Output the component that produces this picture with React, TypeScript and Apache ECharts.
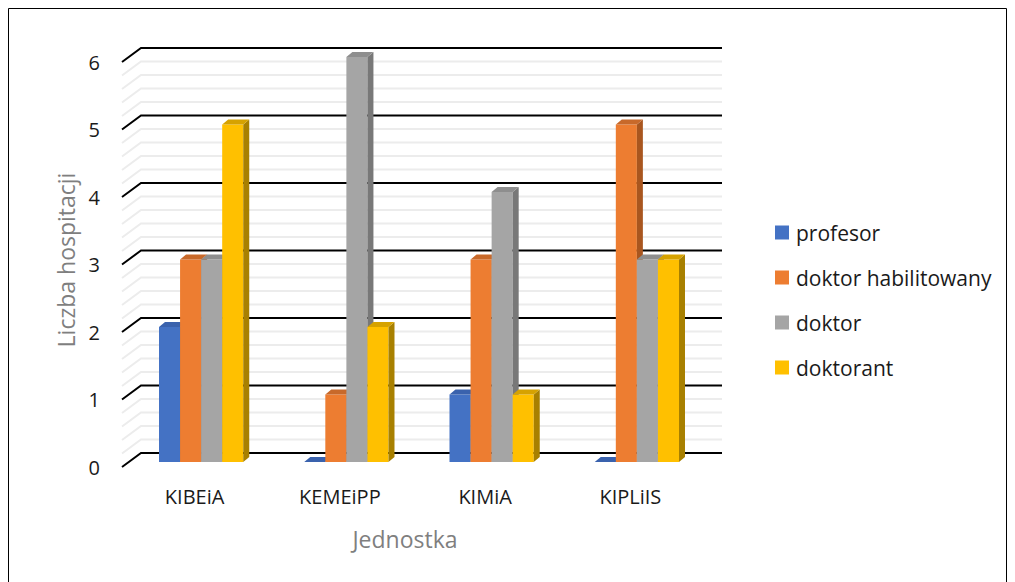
import React, { useEffect, useRef } from "react";
import * as echarts from "echarts";

const categories = ["KIBEiA", "KEMEiPP", "KIMiA", "KIPLiIS"];
const seriesNames = ["profesor", "doktor habilitowany", "doktor", "doktorant"];
const profesor = [2, 0, 1, 0];
const doktorHab = [3, 1, 3, 5];
const doktor = [3, 6, 4, 3];
const doktorant = [5, 2, 1, 3];
const yTicks = [0, 1, 2, 3, 4, 5, 6];

const seriesValues = [profesor, doktorHab, doktor, doktorant];
const frontColors = ["#4472C4", "#ED7D31", "#A5A5A5", "#FFC000"];
const topColors = ["#3a62ad", "#c8692a", "#8e8e8e", "#d6a200"];
const sideColors = ["#2f5597", "#a9561f", "#787878", "#a88000"];

const FONT = "'Open Sans', 'Noto Sans', sans-serif";

// pseudo-3D offsets (pixels)
const WALL_DX = 19;
const WALL_DY = -14;
const BAR_DX = 6.5;
const BAR_DY = -5;
const DEPTH_DX = 6;
const DEPTH_DY = -5;
const BAR_RATIO = 0.145;

function wallRender(params: any, api: any) {
  const cs = params.coordSys;
  const x0 = cs.x;
  const x1 = cs.x + cs.width;
  const v = api.value(1);
  const children: any[] = [];
  const mk = (val: number, color: string, z2: number) => {
    const y = api.coord([0, val])[1];
    children.push({
      type: "polyline",
      z2,
      shape: {
        points: [
          [x0, y],
          [x0 + WALL_DX, y + WALL_DY],
          [x1 + WALL_DX, y + WALL_DY],
        ],
      },
      style: { fill: "none", stroke: color, lineWidth: 2 },
    });
  };
  if (v < 6) {
    for (let k = 1; k < 5; k++) mk(v + k / 5, "#ececec", 1);
  }
  mk(v, "#000000", 2);
  return { type: "group", children };
}

function makeBarRender(sIdx: number) {
  return (params: any, api: any) => {
    const cat = api.value(0);
    const val = api.value(1);
    const top = api.coord([cat, val]);
    const base = api.coord([cat, 0]);
    const band = api.size([1, 0])[0];
    const bw = band * BAR_RATIO;
    const xL = top[0] - 2 * bw + sIdx * bw + BAR_DX;
    const xR = xL + bw;
    const yT = top[1] + BAR_DY;
    const yB = base[1] + BAR_DY;
    const children: any[] = [];
    if (yB - yT > 0.1) {
      children.push({
        type: "polygon",
        shape: { points: [[xL, yT], [xR, yT], [xR, yB], [xL, yB]] },
        style: { fill: frontColors[sIdx] },
      });
      children.push({
        type: "polygon",
        shape: {
          points: [
            [xR, yT],
            [xR + DEPTH_DX, yT + DEPTH_DY],
            [xR + DEPTH_DX, yB + DEPTH_DY],
            [xR, yB],
          ],
        },
        style: { fill: sideColors[sIdx] },
      });
    }
    children.push({
      type: "polygon",
      shape: {
        points: [
          [xL, yT],
          [xL + DEPTH_DX, yT + DEPTH_DY],
          [xR + DEPTH_DX, yT + DEPTH_DY],
          [xR, yT],
        ],
      },
      style: { fill: topColors[sIdx] },
    });
    return { type: "group", children };
  };
}

export default function App() {
  const ref = useRef<HTMLDivElement>(null);
  useEffect(() => {
    if (!ref.current) return;
    const chart = echarts.init(ref.current, undefined, { renderer: "svg" });
    const barSeries = seriesNames.map((name, s) => ({
      type: "custom",
      name,
      renderItem: makeBarRender(s),
      data: seriesValues[s].map((v, i) => [i, v]),
      encode: { x: 0, y: 1 },
      itemStyle: { color: frontColors[s] },
      clip: false,
      z: 3,
    }));
    chart.setOption({
      animation: false,
      backgroundColor: "#ffffff",
      textStyle: { fontFamily: FONT },
      graphic: [
        {
          type: "rect",
          shape: { x: 8.5, y: 8.5, width: 998, height: 620 },
          style: { fill: "none", stroke: "#000", lineWidth: 1 },
          silent: true,
        },
      ],
      grid: { left: 122, top: 62, width: 581, height: 405 },
      legend: {
        data: seriesNames,
        orient: "vertical",
        left: 775,
        top: 222,
        padding: 0,
        icon: "rect",
        itemWidth: 14,
        itemHeight: 14,
        itemGap: 24,
        textStyle: {
          fontFamily: FONT,
          fontSize: 21,
          color: "#1a1a1a",
          padding: [0, 0, 0, 2],
        },
        selectedMode: false,
      },
      xAxis: {
        type: "category",
        data: categories,
        axisLine: { show: false },
        axisTick: { show: false },
        splitLine: { show: false },
        axisLabel: { fontSize: 20, color: "#1a1a1a", margin: 19, fontFamily: FONT },
        name: "Jednostka",
        nameLocation: "middle",
        nameGap: 60,
        nameTextStyle: {
          fontSize: 23,
          color: "#7f7f7f",
          fontFamily: FONT,
          padding: [0, 15, 0, 0],
        },
      },
      yAxis: {
        type: "value",
        min: 0,
        max: 6,
        interval: 1,
        axisLine: { show: false },
        axisTick: { show: false },
        splitLine: { show: false },
        axisLabel: { fontSize: 20, color: "#1a1a1a", margin: 22, fontFamily: FONT },
        name: "Liczba hospitacji",
        nameLocation: "middle",
        nameGap: 45,
        nameTextStyle: {
          fontSize: 23,
          color: "#7f7f7f",
          fontFamily: FONT,
          padding: [0, 0, 0, 9],
        },
      },
      series: [
        {
          type: "custom",
          name: "wall",
          renderItem: wallRender,
          data: yTicks.map((v) => [0, v]),
          encode: { x: 0, y: 1 },
          silent: true,
          clip: false,
          z: 1,
        },
        ...barSeries,
      ],
    });
    return () => chart.dispose();
  }, []);
  return (
    <div
      ref={ref}
      style={{ position: "fixed", left: 0, top: 0, width: 1015, height: 582 }}
    />
  );
}
